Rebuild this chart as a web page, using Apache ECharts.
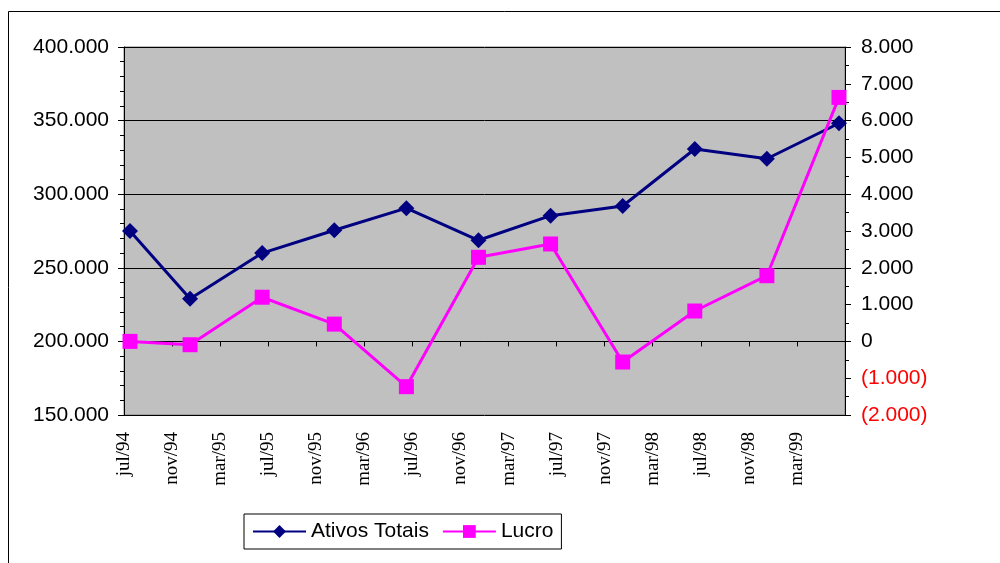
<!DOCTYPE html>
<html>
<head>
<meta charset="utf-8">
<script src="https://cdn.jsdelivr.net/npm/echarts@6/dist/echarts.min.js"></script>
<style>
  html, body { margin: 0; padding: 0; background: #fff; }
  #chart { width: 1000px; height: 563px; }
</style>
</head>
<body>
<div id="chart"></div>
<script>
// meses (eixo começa em jul/94, 60 meses)
var monthNames = ['jan', 'fev', 'mar', 'abr', 'mai', 'jun', 'jul', 'ago', 'set', 'out', 'nov', 'dez']
var startYear = 1994
var startMonth = 6
var totalMonths = 60

// datas dos pontos
var dates = ['jul/94', 'dez/94', 'jun/95', 'dez/95', 'jun/96', 'dez/96', 'jun/97', 'dez/97', 'jun/98', 'dez/98', 'jun/99']
var ativosTotais = [275000, 229000, 260000, 275500, 290500, 268700, 285400, 292000, 330700, 324100, 348200]
var lucro = [0, -90, 1200, 470, -1230, 2285, 2647, -560, 826, 1785, 6630]

// posição do mês no eixo (meio do mês)
function monthPos (label) {
  var parts = label.split('/')
  var m = monthNames.indexOf(parts[0])
  var y = 1900 + parseInt(parts[1], 10)
  return (y - startYear) * 12 + m - startMonth + 0.5
}

function monthLabel (v) {
  var n = startMonth + Math.round(v)
  var yy = (startYear + Math.floor(n / 12)) % 100
  return monthNames[n % 12] + '/' + (yy < 10 ? '0' + yy : yy)
}

function fmt (v) {
  var s = Math.abs(v).toString().replace(/\B(?=(\d{3})+(?!\d))/g, '.')
  return v < 0 ? '(' + s + ')' : s
}

var chart = echarts.init(document.getElementById('chart'))

var option = {
  animation: false,
  backgroundColor: '#fff',
  textStyle: { fontFamily: 'Liberation Sans, Arial, sans-serif' },
  graphic: [
    {
      type: 'rect',
      shape: { x: 8.5, y: 11.5, width: 1000, height: 600 },
      style: { fill: 'none', stroke: '#000', lineWidth: 1 },
      silent: true
    }
  ],
  grid: {
    left: 124,
    right: 155,
    top: 47,
    bottom: 148,
    show: true,
    backgroundColor: '#C0C0C0',
    borderColor: '#808080',
    borderWidth: 1
  },
  legend: {
    left: 244,
    top: 514,
    padding: [7, 8, 7, 8],
    itemGap: 13,
    itemWidth: 53,
    itemHeight: 16,
    backgroundColor: '#fff',
    borderColor: '#000',
    borderWidth: 1,
    borderRadius: 0,
    textStyle: { fontSize: 21, color: '#000', fontFamily: 'Liberation Sans, Arial, sans-serif' },
    data: ['Ativos Totais', 'Lucro']
  },
  xAxis: {
    type: 'value',
    min: 0,
    max: totalMonths,
    interval: 4,
    axisLine: { show: true, lineStyle: { color: '#000', width: 1 } },
    axisTick: { show: true, length: 5, lineStyle: { color: '#000' } },
    splitLine: { show: false },
    axisLabel: {
      rotate: 90,
      margin: 17,
      showMaxLabel: false,
      fontSize: 19,
      color: '#000',
      fontFamily: 'Liberation Serif, Times New Roman, serif',
      formatter: monthLabel
    }
  },
  yAxis: [
    {
      type: 'value',
      position: 'left',
      min: 150000,
      max: 400000,
      interval: 50000,
      axisLine: { show: true, lineStyle: { color: '#000', width: 1 } },
      axisTick: { show: true, length: 6, lineStyle: { color: '#000' } },
      minorTick: { show: true, splitNumber: 5, length: 4, lineStyle: { color: '#000' } },
      splitLine: { show: true, lineStyle: { color: '#000', width: 1 } },
      axisLabel: { fontSize: 21, color: '#000', margin: 15, formatter: fmt }
    },
    {
      type: 'value',
      position: 'right',
      min: -2000,
      max: 8000,
      interval: 1000,
      axisLine: { show: true, lineStyle: { color: '#000', width: 1 } },
      axisTick: { show: true, length: 6, lineStyle: { color: '#000' } },
      minorTick: { show: true, splitNumber: 2, length: 4, lineStyle: { color: '#000' } },
      splitLine: { show: false },
      axisLabel: {
        fontSize: 21,
        margin: 16,
        formatter: fmt,
        color: function (v) { return Number(v) < 0 ? '#FF0000' : '#000' }
      }
    }
  ],
  series: [
    {
      name: 'Ativos Totais',
      type: 'line',
      yAxisIndex: 0,
      symbol: 'diamond',
      symbolSize: 16,
      color: '#000080',
      lineStyle: { width: 3, color: '#000080' },
      itemStyle: { color: '#000080' },
      data: dates.map(function (d, i) { return [monthPos(d), ativosTotais[i]] })
    },
    {
      name: 'Lucro',
      type: 'line',
      yAxisIndex: 1,
      symbol: 'rect',
      symbolSize: 15,
      color: '#FF00FF',
      lineStyle: { width: 3, color: '#FF00FF' },
      itemStyle: { color: '#FF00FF' },
      data: dates.map(function (d, i) { return [monthPos(d), lucro[i]] })
    }
  ]
}

chart.setOption(option)
</script>
</body>
</html>
